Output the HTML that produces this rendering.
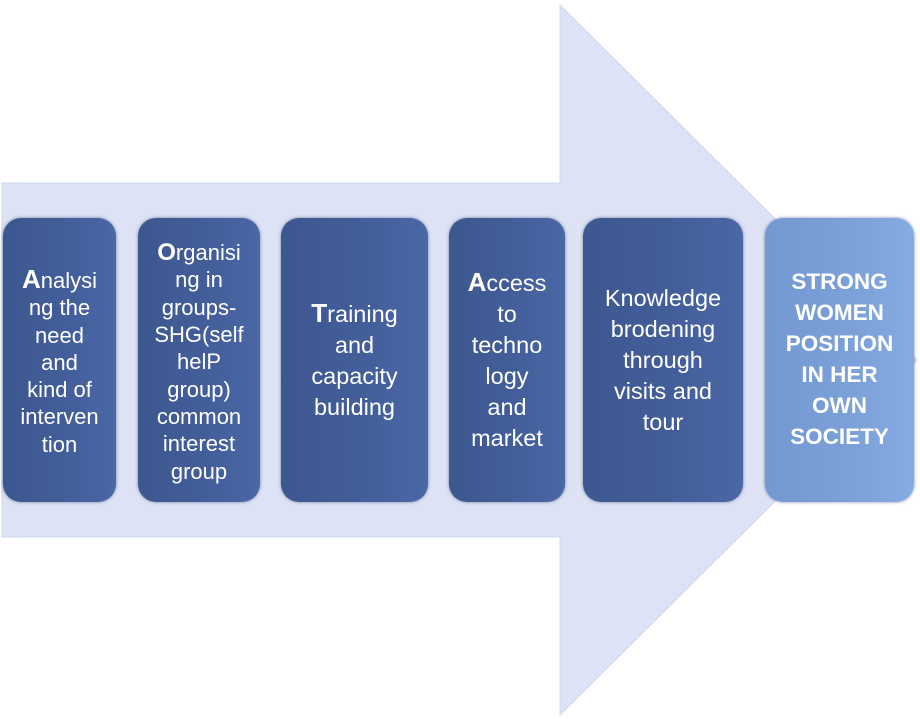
<!DOCTYPE html>
<html><head><meta charset="utf-8"><style>
body{margin:0;width:920px;height:719px;background:#fff;position:relative;overflow:hidden;font-family:"Liberation Sans",sans-serif}
svg{position:absolute;left:0;top:0}
.b{position:absolute;top:218px;height:284px;border-radius:18px;background:linear-gradient(90deg,#3d5790,#425d98 50%,#4a67a6);box-shadow:0 0 3px rgba(40,60,110,.6);color:#fff;display:flex;align-items:center;justify-content:center;text-align:center;font-size:22px;line-height:27.3px;box-sizing:border-box;white-space:nowrap}
.l{line-height:31px;font-size:23.5px}
.c{font-size:26px;font-weight:bold}
</style></head><body>
<svg width="920" height="719"><polygon points="2,183 560,183 560,5 917,360 560,715 560,537 2,537" fill="#dde3f4" stroke="#d0d8ee" stroke-width="1"/></svg>
<div class="b" style="left:3px;width:113px;padding-top:4px"><div><span class="c">A</span>nalysi<br>ng the<br>need<br>and<br>kind of<br>interven<br>tion</div></div>
<div class="b" style="left:138px;width:122px;padding-top:4px"><div><span class="c" style="font-size:24px">O</span>rganisi<br>ng in<br>groups-<br>SHG(self<br>helP<br>group)<br>common<br>interest<br>group</div></div>
<div class="b l" style="left:281px;width:147px;padding-bottom:0px"><div><span class="c">T</span>raining<br>and<br>capacity<br>building</div></div>
<div class="b l" style="left:449px;width:116px;padding-bottom:0px"><div><span class="c">A</span>ccess<br>to<br>techno<br>logy<br>and<br>market</div></div>
<div class="b l" style="left:583px;width:160px;padding-bottom:0px"><div>Knowledge<br>brodening<br>through<br>visits and<br>tour</div></div>
<div class="b l" style="left:765px;width:149px;background:linear-gradient(90deg,#7398d2,#7ca1d9 60%,#86abe2);font-weight:bold;font-size:22.5px;padding-bottom:2px"><div>STRONG<br>WOMEN<br>POSITION<br>IN HER<br>OWN<br>SOCIETY</div></div>
</body></html>
